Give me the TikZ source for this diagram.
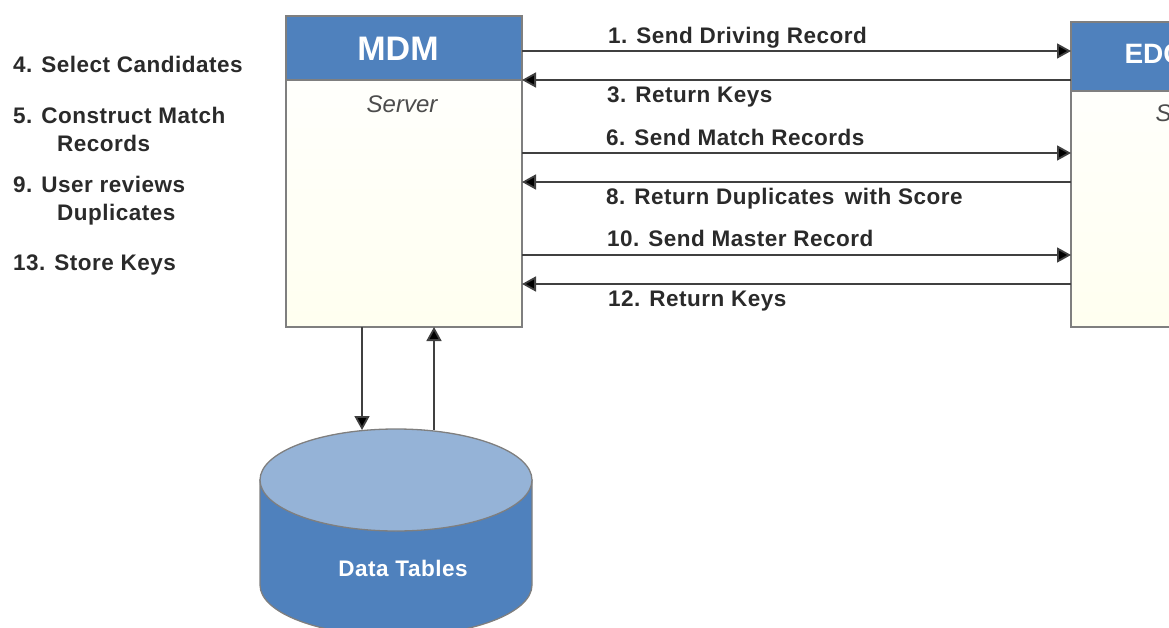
\documentclass[tikz,border=0pt]{standalone}
\usepackage{fontspec}
\setmainfont{Liberation Sans}
\newfontfamily\lblfont[LetterSpace=2.2]{Liberation Sans}
\usetikzlibrary{arrows.meta}
\definecolor{hdrblue}{HTML}{4F81BD}
\definecolor{topblue}{HTML}{95B3D7}
\definecolor{edgegrey}{HTML}{7F7F7F}
\definecolor{lbl}{HTML}{2A2A2A}
\tikzset{
  x=1pt,y=-1pt,
  bodybox/.style={draw=edgegrey,line width=1.3pt,top color=white,bottom color=yellow!6,anchor=north west,inner sep=0,outer sep=0},
  hdrbox/.style={draw=edgegrey,line width=1.3pt,fill=hdrblue,anchor=north west,inner sep=0,outer sep=0},
  hdrtext/.style={text=white,font=\bfseries\fontsize{34}{38}\selectfont},
  edctext/.style={text=white,font=\bfseries\fontsize{28}{32}\selectfont},
  subtext/.style={text=black!70,font=\itshape\fontsize{24}{28}\selectfont},
  lab/.style={anchor=base west,text=lbl,inner sep=0,font=\lblfont\bfseries\fontsize{22.5}{26}\selectfont},
  flow/.style={draw=black!75,line width=1.8pt,-{Triangle[length=14pt,width=15pt,fill=black]}},
}
\begin{document}
\begin{tikzpicture}
\useasboundingbox (0,0) rectangle (1169,628);
\clip (0,0) rectangle (1169,628);
% server boxes
\node[bodybox,minimum width=236pt,minimum height=311pt] (mdmbody) at (286,16) {};
\node[hdrbox,minimum width=236pt,minimum height=64pt] (mdmhead) at (286,16) {};
\node[hdrtext] (mdmtitle) at (398,49) {MDM};
\node[subtext] (mdmsub) at (402,104) {Server};
\node[bodybox,minimum width=236pt,minimum height=305pt] (edcbody) at (1071,22) {};
\node[hdrbox,minimum width=236pt,minimum height=69pt] (edchead) at (1071,22) {};
\node[edctext,anchor=base west] (edctitle) at (1121,64) {EDC};
\node[subtext,anchor=base west] (edcsub) at (1152,122) {Server};
% cylinder
\draw[draw=edgegrey,line width=1.3pt,fill=hdrblue] (260,480) -- (260,585) arc[start angle=180,end angle=360,x radius=136,y radius=-51] -- (532,480) -- cycle;
\draw[draw=edgegrey,line width=1.3pt,fill=topblue] (396,480) ellipse[x radius=136,y radius=51];
\node[inner sep=0,text=white,font=\lblfont\bfseries\fontsize{22.5}{26}\selectfont] (dbtext) at (403,568) {Data Tables};
\coordinate (dbin) at (362,430);
\coordinate (dbout) at (434,430);
% horizontal flows
\draw[flow] (mdmbody.east |- 0,51) -- (edcbody.west |- 0,51);
\draw[flow] (edcbody.west |- 0,80) -- (mdmbody.east |- 0,80);
\draw[flow] (mdmbody.east |- 0,153) -- (edcbody.west |- 0,153);
\draw[flow] (edcbody.west |- 0,182) -- (mdmbody.east |- 0,182);
\draw[flow] (mdmbody.east |- 0,255) -- (edcbody.west |- 0,255);
\draw[flow] (edcbody.west |- 0,284) -- (mdmbody.east |- 0,284);
% database flows
\draw[flow] (mdmbody.south -| dbin) -- (dbin);
\draw[flow] (dbout) -- (mdmbody.south -| dbout);
% flow labels
\node[lab] (l1) at (608,44) {1. Send Driving Record};
\node[lab] (l3) at (607,103) {3. Return Keys};
\node[lab] (l6) at (606,146) {6. Send Match Records};
\node[lab] (l8) at (606,205) {8. Return Duplicates\, with Score};
\node[lab] (l10) at (607,247) {10. Send Master Record};
\node[lab] (l12) at (608,306) {12. Return Keys};
% side labels
\node[lab] (s4) at (13,73) {4. Select Candidates};
\node[lab] (s5) at (13,124) {5. Construct Match};
\node[lab] (s5b) at (57,152) {Records};
\node[lab] (s9) at (13,193) {9. User reviews};
\node[lab] (s9b) at (57,221) {Duplicates};
\node[lab] (s13) at (13,270) {13. Store Keys};
\end{tikzpicture}
\end{document}
